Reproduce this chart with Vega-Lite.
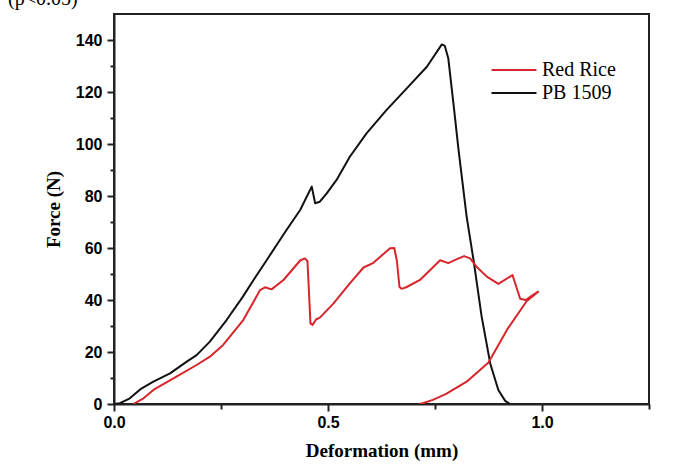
{
  "$schema": "https://vega.github.io/schema/vega-lite/v6.json",
  "autosize": {"type": "none"},
  "width": 535,
  "height": 390,
  "padding": {"left": 114, "top": 14, "right": 24, "bottom": 60},
  "background": "white",
  "title": {"text": "(p<0.05)", "anchor": "start", "frame": "group", "orient": "top", "dx": -106, "dy": 17, "offset": 2, "baseline": "bottom", "font": "Liberation Serif", "fontSize": 20, "fontWeight": "normal", "color": "black"},
  "config": {"view": {"stroke": "#222", "strokeWidth": 2}},
  "data": {"values": [
    {"s": "PB 1509", "i": 0, "d": 0.0, "F": 0.0},
    {"s": "PB 1509", "i": 1, "d": 0.014, "F": 0.3},
    {"s": "PB 1509", "i": 2, "d": 0.037, "F": 2.2},
    {"s": "PB 1509", "i": 3, "d": 0.061, "F": 5.6},
    {"s": "PB 1509", "i": 4, "d": 0.092, "F": 8.6},
    {"s": "PB 1509", "i": 5, "d": 0.131, "F": 11.8},
    {"s": "PB 1509", "i": 6, "d": 0.170, "F": 16.3},
    {"s": "PB 1509", "i": 7, "d": 0.193, "F": 18.8},
    {"s": "PB 1509", "i": 8, "d": 0.224, "F": 24.0},
    {"s": "PB 1509", "i": 9, "d": 0.263, "F": 32.3},
    {"s": "PB 1509", "i": 10, "d": 0.300, "F": 41.0},
    {"s": "PB 1509", "i": 11, "d": 0.326, "F": 47.7},
    {"s": "PB 1509", "i": 12, "d": 0.357, "F": 55.4},
    {"s": "PB 1509", "i": 13, "d": 0.403, "F": 66.9},
    {"s": "PB 1509", "i": 14, "d": 0.435, "F": 74.6},
    {"s": "PB 1509", "i": 15, "d": 0.462, "F": 83.6},
    {"s": "PB 1509", "i": 16, "d": 0.470, "F": 77.2},
    {"s": "PB 1509", "i": 17, "d": 0.481, "F": 77.8},
    {"s": "PB 1509", "i": 18, "d": 0.497, "F": 81.0},
    {"s": "PB 1509", "i": 19, "d": 0.520, "F": 86.2},
    {"s": "PB 1509", "i": 20, "d": 0.551, "F": 95.1},
    {"s": "PB 1509", "i": 21, "d": 0.590, "F": 104.1},
    {"s": "PB 1509", "i": 22, "d": 0.637, "F": 113.1},
    {"s": "PB 1509", "i": 23, "d": 0.684, "F": 121.4},
    {"s": "PB 1509", "i": 24, "d": 0.731, "F": 129.7},
    {"s": "PB 1509", "i": 25, "d": 0.766, "F": 138.3},
    {"s": "PB 1509", "i": 26, "d": 0.773, "F": 137.7},
    {"s": "PB 1509", "i": 27, "d": 0.781, "F": 133.0},
    {"s": "PB 1509", "i": 28, "d": 0.793, "F": 115.7},
    {"s": "PB 1509", "i": 29, "d": 0.805, "F": 97.7},
    {"s": "PB 1509", "i": 30, "d": 0.824, "F": 72.0},
    {"s": "PB 1509", "i": 31, "d": 0.840, "F": 55.4},
    {"s": "PB 1509", "i": 32, "d": 0.859, "F": 33.6},
    {"s": "PB 1509", "i": 33, "d": 0.879, "F": 15.6},
    {"s": "PB 1509", "i": 34, "d": 0.898, "F": 5.4},
    {"s": "PB 1509", "i": 35, "d": 0.914, "F": 1.2},
    {"s": "PB 1509", "i": 36, "d": 0.925, "F": 0.0},
    {"s": "Red Rice", "i": 0, "d": 0.045, "F": 0.0},
    {"s": "Red Rice", "i": 1, "d": 0.069, "F": 2.2},
    {"s": "Red Rice", "i": 2, "d": 0.092, "F": 5.4},
    {"s": "Red Rice", "i": 3, "d": 0.146, "F": 10.5},
    {"s": "Red Rice", "i": 4, "d": 0.193, "F": 15.0},
    {"s": "Red Rice", "i": 5, "d": 0.224, "F": 18.2},
    {"s": "Red Rice", "i": 6, "d": 0.255, "F": 22.7},
    {"s": "Red Rice", "i": 7, "d": 0.302, "F": 32.3},
    {"s": "Red Rice", "i": 8, "d": 0.330, "F": 40.5},
    {"s": "Red Rice", "i": 9, "d": 0.341, "F": 43.8},
    {"s": "Red Rice", "i": 10, "d": 0.353, "F": 44.9},
    {"s": "Red Rice", "i": 11, "d": 0.368, "F": 44.1},
    {"s": "Red Rice", "i": 12, "d": 0.396, "F": 47.7},
    {"s": "Red Rice", "i": 13, "d": 0.435, "F": 55.2},
    {"s": "Red Rice", "i": 14, "d": 0.446, "F": 56.0},
    {"s": "Red Rice", "i": 15, "d": 0.452, "F": 55.0},
    {"s": "Red Rice", "i": 16, "d": 0.455, "F": 45.0},
    {"s": "Red Rice", "i": 17, "d": 0.459, "F": 31.0},
    {"s": "Red Rice", "i": 18, "d": 0.464, "F": 30.4},
    {"s": "Red Rice", "i": 19, "d": 0.472, "F": 32.5},
    {"s": "Red Rice", "i": 20, "d": 0.481, "F": 33.2},
    {"s": "Red Rice", "i": 21, "d": 0.512, "F": 38.5},
    {"s": "Red Rice", "i": 22, "d": 0.551, "F": 46.4},
    {"s": "Red Rice", "i": 23, "d": 0.583, "F": 52.5},
    {"s": "Red Rice", "i": 24, "d": 0.606, "F": 54.3},
    {"s": "Red Rice", "i": 25, "d": 0.645, "F": 59.9},
    {"s": "Red Rice", "i": 26, "d": 0.655, "F": 60.0},
    {"s": "Red Rice", "i": 27, "d": 0.661, "F": 55.0},
    {"s": "Red Rice", "i": 28, "d": 0.667, "F": 45.0},
    {"s": "Red Rice", "i": 29, "d": 0.672, "F": 44.3},
    {"s": "Red Rice", "i": 30, "d": 0.684, "F": 45.0},
    {"s": "Red Rice", "i": 31, "d": 0.715, "F": 47.7},
    {"s": "Red Rice", "i": 32, "d": 0.762, "F": 55.3},
    {"s": "Red Rice", "i": 33, "d": 0.781, "F": 54.2},
    {"s": "Red Rice", "i": 34, "d": 0.800, "F": 55.6},
    {"s": "Red Rice", "i": 35, "d": 0.818, "F": 56.9},
    {"s": "Red Rice", "i": 36, "d": 0.832, "F": 56.0},
    {"s": "Red Rice", "i": 37, "d": 0.847, "F": 52.8},
    {"s": "Red Rice", "i": 38, "d": 0.871, "F": 49.0},
    {"s": "Red Rice", "i": 39, "d": 0.898, "F": 46.2},
    {"s": "Red Rice", "i": 40, "d": 0.931, "F": 49.6},
    {"s": "Red Rice", "i": 41, "d": 0.949, "F": 40.5},
    {"s": "Red Rice", "i": 42, "d": 0.962, "F": 40.0},
    {"s": "Red Rice", "i": 43, "d": 0.975, "F": 41.5},
    {"s": "Red Rice", "i": 44, "d": 0.991, "F": 43.2},
    {"s": "Red Rice", "i": 45, "d": 0.964, "F": 39.5},
    {"s": "Red Rice", "i": 46, "d": 0.920, "F": 29.0},
    {"s": "Red Rice", "i": 47, "d": 0.875, "F": 16.0},
    {"s": "Red Rice", "i": 48, "d": 0.824, "F": 8.6},
    {"s": "Red Rice", "i": 49, "d": 0.775, "F": 3.8},
    {"s": "Red Rice", "i": 50, "d": 0.745, "F": 1.6},
    {"s": "Red Rice", "i": 51, "d": 0.723, "F": 0.4},
    {"s": "Red Rice", "i": 52, "d": 0.714, "F": 0.0}
  ]},
  "mark": {"type": "line", "strokeWidth": 2, "clip": true, "interpolate": "linear", "strokeJoin": "round"},
  "encoding": {
    "x": {
      "field": "d", "type": "quantitative",
      "scale": {"domain": [0, 1.25], "nice": false, "zero": false},
      "axis": {
        "title": "Deformation (mm)",
        "values": [0, 0.25, 0.5, 0.75, 1.0, 1.25],
        "labelExpr": "(datum.value * 2) % 1 === 0 && datum.value < 1.2 ? format(datum.value, '.1f') : ''",
        "grid": false,
        "domainColor": "#222", "domainWidth": 2,
        "tickColor": "#222", "tickWidth": 2,
        "tickSize": {"condition": {"test": "(datum.value * 2) % 1 === 0", "value": 7}, "value": 5},
        "labelFont": "Liberation Sans", "labelFontWeight": "bold", "labelFontSize": 16, "labelColor": "black",
        "labelPadding": 3, "labelFlush": false,
        "titleFont": "Liberation Serif", "titleFontWeight": "bold", "titleFontSize": 19, "titleColor": "black",
        "titlePadding": 11
      }
    },
    "y": {
      "field": "F", "type": "quantitative",
      "scale": {"domain": [0, 150], "nice": false},
      "axis": {
        "title": "Force (N)",
        "values": [0, 10, 20, 30, 40, 50, 60, 70, 80, 90, 100, 110, 120, 130, 140],
        "labelExpr": "datum.value % 20 === 0 ? datum.label : ''",
        "grid": false,
        "domainColor": "#222", "domainWidth": 2,
        "tickColor": "#222", "tickWidth": 2,
        "tickSize": {"condition": {"test": "datum.value % 20 === 0", "value": 7}, "value": 4},
        "labelFont": "Liberation Sans", "labelFontWeight": "bold", "labelFontSize": 16, "labelColor": "black",
        "labelPadding": 5, "labelFlush": false,
        "titleFont": "Liberation Serif", "titleFontWeight": "bold", "titleFontSize": 19, "titleColor": "black",
        "titlePadding": 12
      }
    },
    "color": {
      "field": "s", "type": "nominal",
      "scale": {"domain": ["Red Rice", "PB 1509"], "range": ["#d7262b", "#111111"]},
      "legend": {
        "title": null, "orient": "none", "legendX": 390, "legendY": 46,
        "symbolType": "M-3,0H3", "symbolSize": 225, "symbolStrokeWidth": 2,
        "labelFont": "Liberation Serif", "labelFontSize": 20, "labelColor": "black",
        "labelOffset": 18, "rowPadding": 3
      }
    },
    "detail": {"field": "s"},
    "order": {"field": "i", "type": "quantitative"}
  }
}
